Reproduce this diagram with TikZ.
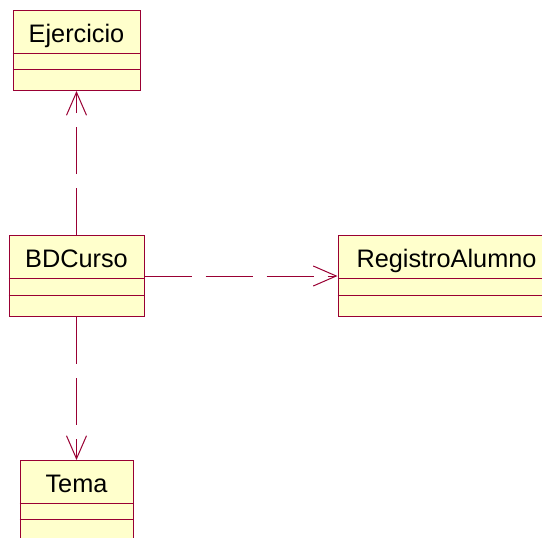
\documentclass[tikz,border=0pt]{standalone}
\usepackage{fontspec}
\setmainfont{Liberation Sans}
\usetikzlibrary{arrows.meta}

\definecolor{umlborder}{RGB}{153,0,51}
\definecolor{umlfill}{RGB}{255,255,204}

\begin{document}
\begin{tikzpicture}[x=1pt,y=-1pt,
		classbox/.style={draw=umlborder, fill=umlfill, line width=1pt, inner sep=0pt, anchor=north},
		classname/.style={font=\fontsize{25.3}{29}\selectfont, inner sep=0pt, anchor=base},
		divider/.style={draw=umlborder, line width=1pt},
		dep/.style={draw=umlborder, line width=1pt, dash pattern=on 47pt off 14pt,
			-{Straight Barb[length=23pt,width=20pt]}}]
	\useasboundingbox (0,0) rectangle (542,538);
	\clip (0,0) rectangle (542,538);
	% classes
	\node[classbox, minimum width=127pt, minimum height=80pt] (ejercicio) at (76.5,10) {};
	\node[classname] (ejercicio-name) at ([yshift=-32pt]ejercicio.north) {Ejercicio};
	\draw[divider] ([yshift=-43pt]ejercicio.north west) -- ([yshift=-43pt]ejercicio.north east);
	\draw[divider] ([yshift=-59pt]ejercicio.north west) -- ([yshift=-59pt]ejercicio.north east);

	\node[classbox, minimum width=135pt, minimum height=81pt] (bdcurso) at (76.5,235) {};
	\node[classname] (bdcurso-name) at ([yshift=-32pt]bdcurso.north) {BDCurso};
	\draw[divider] ([yshift=-43pt]bdcurso.north west) -- ([yshift=-43pt]bdcurso.north east);
	\draw[divider] ([yshift=-60pt]bdcurso.north west) -- ([yshift=-60pt]bdcurso.north east);

	\node[classbox, minimum width=217pt, minimum height=81pt] (registro) at (446.5,235) {};
	\node[classname] (registro-name) at ([yshift=-32pt]registro.north) {RegistroAlumno};
	\draw[divider] ([yshift=-43pt]registro.north west) -- ([yshift=-43pt]registro.north east);
	\draw[divider] ([yshift=-60pt]registro.north west) -- ([yshift=-60pt]registro.north east);

	\node[classbox, minimum width=113pt, minimum height=80pt] (tema) at (76.5,460) {};
	\node[classname] (tema-name) at ([yshift=-32pt]tema.north) {Tema};
	\draw[divider] ([yshift=-43pt]tema.north west) -- ([yshift=-43pt]tema.north east);
	\draw[divider] ([yshift=-59pt]tema.north west) -- ([yshift=-59pt]tema.north east);
	% dependencies
	\draw[dep] (bdcurso.north) -- (ejercicio.south);
	\draw[dep] (bdcurso.east) -- (registro.west);
	\draw[dep] (bdcurso.south) -- (tema.north);
\end{tikzpicture}
\end{document}
